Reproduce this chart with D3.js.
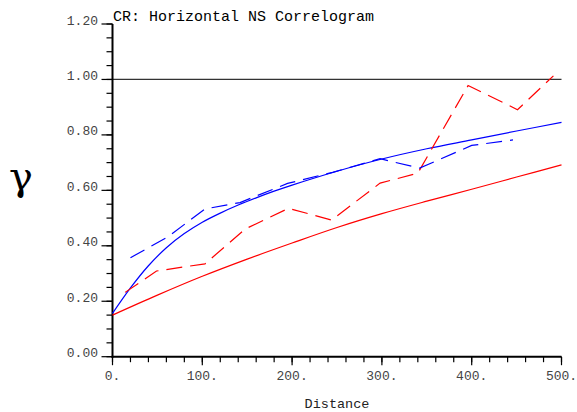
<!DOCTYPE html>
<html><head><meta charset="utf-8">
<script src="https://cdn.jsdelivr.net/npm/d3@7"></script>
<style>body{margin:0;background:#fff}svg{display:block}</style>
</head><body><svg id="c" width="577" height="412"></svg>
<script>
const title = "CR: Horizontal NS Correlogram";
const xLabel = "Distance";
const yLabel = "γ";
const xTicks = [0,100,200,300,400,500];
const xTickLabels = ["0.","100.","200.","300.","400.","500."];
const yTicks = [0,0.2,0.4,0.6,0.8,1.0,1.2];
const yTickLabels = ["0.00","0.20","0.40","0.60","0.80","1.00","1.20"];
const sill = 1.0;

const blueModelLag = [0,20,40,60,80,100,120,140,160,180,200,250,300,350,400,450,500];
const blueModelVal = [0.156,0.248,0.328,0.393,0.444,0.485,0.518,0.547,0.573,0.597,0.619,0.669,0.713,0.75,0.782,0.814,0.845];
const redModelLag = [0,50,100,150,200,250,300,350,400,450,500];
const redModelVal = [0.15,0.222,0.29,0.352,0.41,0.466,0.516,0.561,0.604,0.648,0.692];
const blueExpLag = [20,62,103,142,195,245,298,342,400,446];
const blueExpVal = [0.357,0.433,0.533,0.556,0.625,0.665,0.714,0.68,0.762,0.782];
const redExpLag = [14,49,103,148,196,244,298,340,396,451,491];
const redExpVal = [0.232,0.309,0.335,0.461,0.535,0.493,0.626,0.662,0.978,0.891,1.013];

const svg = d3.select("#c");
const x = d3.scaleLinear().domain([0,500]).range([112.5,561.5]);
const y = d3.scaleLinear().domain([0,1.2]).range([356.7,24]);
const mono = "'Liberation Mono', 'Courier New', monospace";

// sill line
svg.append("line").attr("x1",x(0)).attr("x2",x(500)).attr("y1",y(sill)).attr("y2",y(sill))
  .attr("stroke","#333").attr("stroke-width",1.2);

// y axis
const yMinor = d3.range(0,1.2001,0.05);
svg.append("g").selectAll("line").data(yMinor).join("line")
  .attr("x1",x(0)-6).attr("x2",x(0)).attr("y1",d=>y(d)).attr("y2",d=>y(d))
  .attr("stroke","#000").attr("stroke-width",1.2);
svg.append("g").selectAll("line").data(yTicks).join("line")
  .attr("x1",x(0)-11).attr("x2",x(0)).attr("y1",d=>y(d)).attr("y2",d=>y(d))
  .attr("stroke","#000").attr("stroke-width",1.2);
svg.append("g").selectAll("text").data(yTicks).join("text")
  .attr("x",98).attr("y",d=>y(d)+0.5).attr("text-anchor","end")
  .attr("font-family",mono).attr("font-size",13).attr("fill","#444")
  .text((d,i)=>yTickLabels[i]);
svg.append("line").attr("x1",x(0)).attr("x2",x(0)).attr("y1",y(1.2)).attr("y2",y(0)+1)
  .attr("stroke","#000").attr("stroke-width",2);

// x axis
const xMinor = d3.range(0,500.1,20);
svg.append("g").selectAll("line").data(xMinor).join("line")
  .attr("x1",d=>x(d)).attr("x2",d=>x(d)).attr("y1",y(0)).attr("y2",y(0)+5.5)
  .attr("stroke","#000").attr("stroke-width",1.2);
svg.append("g").selectAll("line").data(xTicks).join("line")
  .attr("x1",d=>x(d)).attr("x2",d=>x(d)).attr("y1",y(0)).attr("y2",y(0)+8.5)
  .attr("stroke","#000").attr("stroke-width",1.2);
svg.append("g").selectAll("text").data(xTicks).join("text")
  .attr("x",d=>x(d)).attr("y",380).attr("text-anchor","middle")
  .attr("font-family",mono).attr("font-size",13).attr("fill","#444")
  .text((d,i)=>xTickLabels[i]);
svg.append("line").attr("x1",x(0)-1).attr("x2",x(500)).attr("y1",y(0)).attr("y2",y(0))
  .attr("stroke","#000").attr("stroke-width",2);

// lines
function draw(lags, vals, color, dashed, curve){
  const line = d3.line().x(d=>x(d[0])).y(d=>y(d[1])).curve(curve);
  svg.append("path").datum(lags.map((l,i)=>[l,vals[i]]))
    .attr("d",line).attr("fill","none").attr("stroke",color).attr("stroke-width",1.2)
    .attr("stroke-dasharray",dashed?"16,8":null);
}
draw(redModelLag, redModelVal, "#ff0000", false, d3.curveCatmullRom);
draw(blueModelLag, blueModelVal, "#0000ff", false, d3.curveCatmullRom);
draw(redExpLag, redExpVal, "#ff0000", true, d3.curveLinear);
draw(blueExpLag, blueExpVal, "#0000ff", true, d3.curveLinear);

// title and labels
svg.append("text").attr("x",113).attr("y",21).attr("font-family",mono).attr("font-size",15)
  .attr("fill","#000").text(title);
svg.append("text").attr("x",337).attr("y",408).attr("text-anchor","middle")
  .attr("font-family",mono).attr("font-size",13.5).attr("fill","#222").text(xLabel);
svg.append("text").attr("x",21).attr("y",190).attr("text-anchor","middle")
  .attr("font-family","'DejaVu Serif',serif").attr("font-size",40)
  .attr("fill","#000").text(yLabel);
</script></body></html>
